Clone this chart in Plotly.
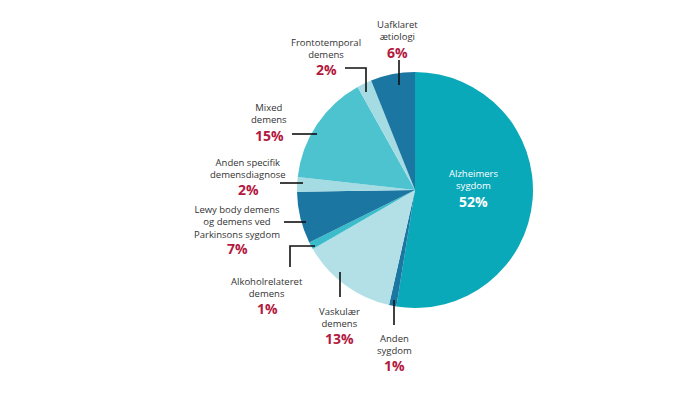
import plotly.graph_objects as go

# ---- data ----
categories = ["Alzheimers sygdom", "Anden sygdom", "Vaskulær demens", "Alkoholrelateret demens",
              "Lewy body demens og demens ved Parkinsons sygdom", "Anden specifik demensdiagnose",
              "Mixed demens", "Frontotemporal demens", "Uafklaret ætiologi"]
values = [52, 1, 13, 1, 7, 2, 15, 2, 6]
pct_labels = ["52%", "1%", "13%", "1%", "7%", "2%", "15%", "2%", "6%"]
name_lines = [["Alzheimers", "sygdom"], ["Anden", "sygdom"], ["Vaskulær", "demens"],
              ["Alkoholrelateret", "demens"], ["Lewy body demens", "og demens ved", "Parkinsons sygdom"],
              ["Anden specifik", "demensdiagnose"], ["Mixed", "demens"], ["Frontotemporal", "demens"],
              ["Uafklaret", "ætiologi"]]
colors = ["#0aa9b9", "#1b77a2", "#b3e0e7", "#3bbccb", "#1b77a2", "#a5dbe3", "#4dc3cf", "#a5dbe3", "#1b77a2"]

# ---- layout (pixel positions) ----
W, H = 700, 394
cx, cy, R = 415, 190, 118
# label block: (center x, center y of name lines, center y of percent)
label_pos = [(473, 179.5, 201.5), (394, 344.5, 365), (339, 317, 338), (267, 287.5, 308),
             (237, 222, 248), (248, 168.5, 189), (269, 113.5, 135), (326, 48.5, 69), (397, 30.5, 52)]
leaders = [None,
           [(394, 300), (394, 325)],
           [(340, 272), (340, 297)],
           [(315, 246), (290, 246), (290, 267)],
           [(284, 222), (306, 222)],
           [(280, 183), (303, 183)],
           [(292, 134), (317, 134)],
           [(345, 68), (366, 68), (366, 92)],
           [(399, 60), (399, 85)]]

fig = go.Figure()
fig.add_trace(go.Pie(
    labels=categories, values=values, sort=False, direction="clockwise", rotation=0,
    marker=dict(colors=colors, line=dict(width=0)), textinfo="none", hoverinfo="label+percent",
    showlegend=False,
    domain=dict(x=[(cx - R) / W, (cx + R) / W], y=[(H - cy - R) / H, (H - cy + R) / H]),
))

font = "Open Sans, Lato, sans-serif"
ann = []
shapes = []
for i, (lines, pct) in enumerate(zip(name_lines, pct_labels)):
    x, yn, yp = label_pos[i]
    tc = "white" if i == 0 else "#333333"
    pc = "white" if i == 0 else "#b3193f"
    ann.append(dict(x=x, y=yn, xref="x", yref="y", text="<br>".join(lines), showarrow=False,
                    xanchor="center", yanchor="middle", align="center",
                    font=dict(family=font, size=9.5, color=tc)))
    ann.append(dict(x=x, y=yp, xref="x", yref="y", text="<b>%s</b>" % pct, showarrow=False,
                    xanchor="center", yanchor="middle",
                    font=dict(family=font, size=14, color=pc)))
    if leaders[i]:
        pts = leaders[i]
        path = "M " + " L ".join("%g,%g" % p for p in pts)
        shapes.append(dict(type="path", path=path, xref="x", yref="y",
                           line=dict(color="#111111", width=1.6)))

fig.update_layout(
    width=W, height=H, margin=dict(l=0, r=0, t=0, b=0),
    paper_bgcolor="white", plot_bgcolor="rgba(0,0,0,0)",
    xaxis=dict(range=[0, W], visible=False, fixedrange=True),
    yaxis=dict(range=[H, 0], visible=False, fixedrange=True),
    annotations=ann, shapes=shapes,
)
fig.write_html("out.html", config={"displayModeBar": False},
               post_script="document.body.style.margin='0';")
